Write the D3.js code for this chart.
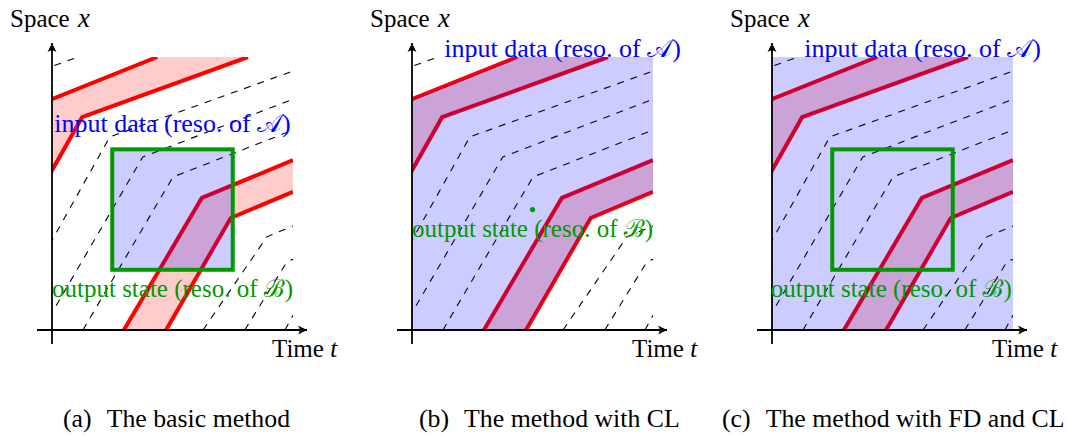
<!DOCTYPE html>
<html>
<head>
<meta charset="utf-8">
<script src="https://cdn.jsdelivr.net/npm/d3@7"></script>
<style>
  body { margin: 0; background: #fff; }
</style>
</head>
<body>
<div class="chart"></div>
<script>
// characteristic curves as [t, x] points in plot units
var dashedCurves = [
  [[-0.6, 6.35], [0.65, 6.8]],
  [[-1.25, 0], [1.44, 4.81], [6, 6.45]],
  [[-0.25, 0], [2.26, 4.31], [6, 5.75]],
  [[0.77, 0], [3.01, 3.81], [6, 4.98]],
  [[3.76, 0], [5.35, 2.32], [6, 2.59]],
  [[4.80, 0], [5.85, 1.70], [6, 1.76]],
  [[5.80, 0], [6.1, 0.55]]
];
var upperBand = [
  [[-3.25, 0], [-0.1, 5.71], [2.62, 6.8]],
  [[-2.25, 0], [0.75, 5.30], [4.88, 6.8]]
];
var lowerBand = [
  [[1.79, 0], [3.73, 3.29], [6, 4.23]],
  [[2.84, 0], [4.45, 2.79], [6, 3.44]]
];
var outputBox = [[1.5, 1.5], [4.5, 4.5]];
var outputPoint = [3, 3];
var captionTags = ['(a)', '(b)', '(c)'];
var captionTexts = ['The basic method', 'The method with CL', 'The method with FD and CL'];
var blueModes = ['box', 'domain', 'all'];

var tMax = 6, xMax = 6.8;
var plotWidth = 241, plotHeight = 273, plotTop = 57;
var panelLeft = [52, 412, 772];
var captionLeft = [63, 419, 722];
var inputLabelAt = [[3.0, 4.93], [3.75, 6.8], [3.75, 6.8]];
var outputLabelAt = [[3.0, 0.82], [3.0, 2.32], [2.97, 0.82]];
var serif = "'Liberation Serif', 'DejaVu Serif', 'Noto Serif', serif";

var svg = d3.select('.chart')
  .append('svg')
  .attr('width', 1073)
  .attr('height', 436)
  .attr('font-family', serif);

var defs = svg.append('defs');
defs.append('clipPath')
  .attr('id', 'plotClip')
  .append('rect')
  .attr('x', 0).attr('y', 0)
  .attr('width', plotWidth).attr('height', plotHeight);

defs.append('marker')
  .attr('id', 'arrow')
  .attr('viewBox', '-10 -6 12 12')
  .attr('refX', 0).attr('refY', 0)
  .attr('markerUnits', 'userSpaceOnUse')
  .attr('markerWidth', 12).attr('markerHeight', 12)
  .attr('orient', 'auto')
  .append('path')
  .attr('d', 'M0,0 L-9,-4.5 Q-5.5,0 -9,4.5 Z')
  .style('fill', 'black');

var xScale = d3.scaleLinear().domain([0, tMax]).range([0, plotWidth]);
var yScale = d3.scaleLinear().domain([0, xMax]).range([plotHeight, 0]);

var line = d3.line()
  .x(d => xScale(d[0]))
  .y(d => yScale(d[1]));

function band(pair) {
  return pair[0].concat(pair[1].slice().reverse());
}

captionTexts.forEach((caption, i) => {
  var g = svg.append('g')
    .attr('transform', `translate(${panelLeft[i]}, ${plotTop})`);

  var plot = g.append('g').attr('clip-path', 'url(#plotClip)');

  // dashed characteristics
  plot.selectAll('.dash')
    .data(dashedCurves)
    .enter()
    .append('path')
    .attr('class', 'dash')
    .attr('d', line)
    .style('fill', 'none')
    .style('stroke', 'black')
    .style('stroke-width', 1.1)
    .style('stroke-dasharray', '7,7');

  // light red bands + their borders
  plot.selectAll('.band')
    .data([upperBand, lowerBand])
    .enter()
    .append('path')
    .attr('class', 'band')
    .attr('d', d => line(band(d)) + 'Z')
    .style('fill', 'rgba(255,0,0,0.2)')
    .style('stroke', 'none');

  plot.selectAll('.redline')
    .data(upperBand.concat(lowerBand))
    .enter()
    .append('path')
    .attr('class', 'redline')
    .attr('d', line)
    .style('fill', 'none')
    .style('stroke', '#ff0000')
    .style('stroke-width', 4);

  // blue region
  var mode = blueModes[i];
  var bluePath;
  if (mode == 'box') {
    bluePath = line([outputBox[0], [outputBox[1][0], outputBox[0][1]], outputBox[1], [outputBox[0][0], outputBox[1][1]]]) + 'Z';
  } else if (mode == 'domain') {
    bluePath = line(upperBand[0].concat([[tMax, xMax]], lowerBand[1].slice().reverse())) + 'Z';
  } else {
    bluePath = line([[0, 0], [tMax, 0], [tMax, xMax], [0, xMax]]) + 'Z';
  }
  plot.append('path')
    .attr('d', bluePath)
    .style('fill', 'rgba(0,0,255,0.2)')
    .style('stroke', 'none');

  if (mode != 'domain') {
    g.append('rect')
      .attr('x', xScale(outputBox[0][0]))
      .attr('y', yScale(outputBox[1][1]))
      .attr('width', xScale(outputBox[1][0]) - xScale(outputBox[0][0]))
      .attr('height', yScale(outputBox[0][1]) - yScale(outputBox[1][1]))
      .style('fill', 'none')
      .style('stroke', '#009900')
      .style('stroke-width', 4);
  } else {
    g.append('circle')
      .attr('cx', xScale(outputPoint[0]))
      .attr('cy', yScale(outputPoint[1]))
      .attr('r', 2.6)
      .style('fill', '#009900');
  }

  // axes
  g.append('line')
    .attr('x1', xScale(0) - 15).attr('x2', xScale(tMax) + 14)
    .attr('y1', yScale(0)).attr('y2', yScale(0))
    .style('stroke', 'black').style('stroke-width', 1.8)
    .attr('marker-end', 'url(#arrow)');
  g.append('line')
    .attr('x1', xScale(0)).attr('x2', xScale(0))
    .attr('y1', yScale(0) + 14).attr('y2', yScale(xMax) - 14)
    .style('stroke', 'black').style('stroke-width', 1.8)
    .attr('marker-end', 'url(#arrow)');

  // labels
  var sp = g.append('text')
    .attr('x', -42).attr('y', 27 - plotTop)
    .style('font-size', '25px');
  sp.append('tspan').text('Space ');
  sp.append('tspan').attr('dx', 2).style('font-style', 'italic').style('font-size', '27px').text('x');

  var tm = g.append('text')
    .attr('x', 220).attr('y', 357 - plotTop)
    .style('font-size', '25px');
  tm.append('tspan').text('Time ');
  tm.append('tspan').style('font-style', 'italic').text('t');

  var inp = g.append('text')
    .attr('x', xScale(inputLabelAt[i][0]))
    .attr('y', yScale(inputLabelAt[i][1]))
    .style('text-anchor', 'middle')
    .style('font-size', '26px')
    .style('fill', '#0000ff');
  inp.append('tspan').text('input data (reso. of ');
  inp.append('tspan').text('\u{1D49C}');
  inp.append('tspan').text(')');

  var out = g.append('text')
    .attr('x', xScale(outputLabelAt[i][0]))
    .attr('y', yScale(outputLabelAt[i][1]))
    .style('text-anchor', 'middle')
    .style('font-size', '25px')
    .style('fill', '#009900');
  out.append('tspan').text('output state (reso. of ');
  out.append('tspan').text('\u212C');
  out.append('tspan').text(')');

  var cap = svg.append('text')
    .attr('x', captionLeft[i]).attr('y', 427)
    .style('font-size', '25.8px');
  cap.append('tspan').text(captionTags[i]);
  cap.append('tspan').attr('dx', 15).text(caption);
});
</script>
</body>
</html>
